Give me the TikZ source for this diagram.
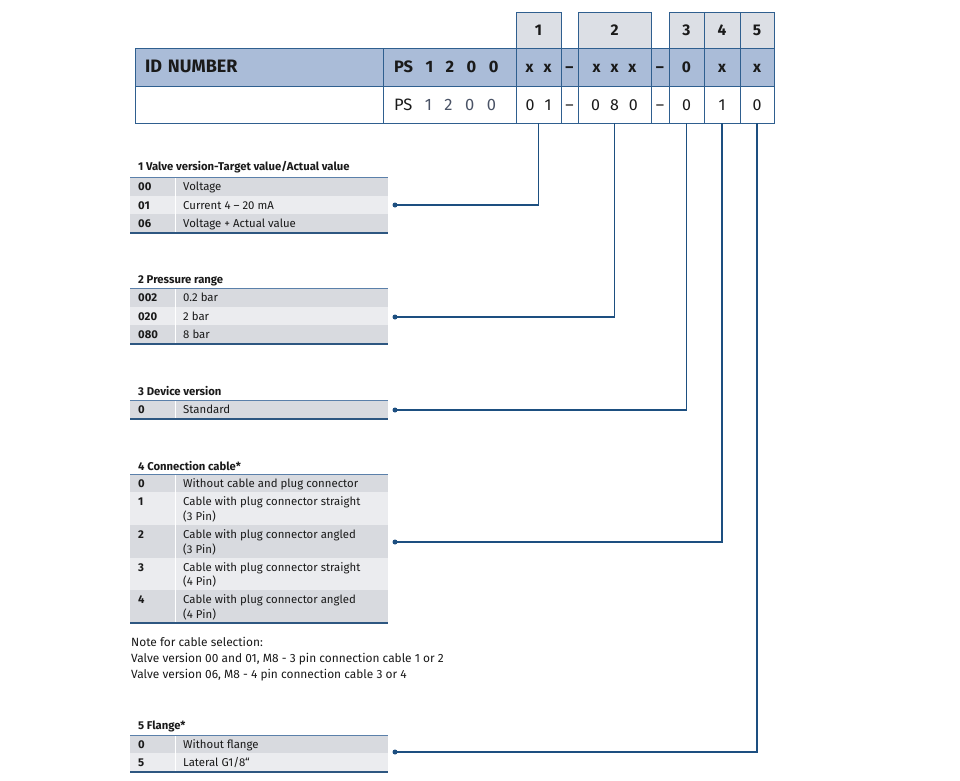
\documentclass[tikz,border=0pt]{standalone}
\usepackage{fontspec}
\setmainfont{Fira Sans}
\definecolor{bordblue}{HTML}{2F5F8F}
\definecolor{idblue}{HTML}{AABCD8}
\definecolor{numgray}{HTML}{DCDFE5}
\definecolor{rowgray}{HTML}{D8DADF}
\definecolor{rowlight}{HTML}{EBECEF}
\definecolor{lineblue}{HTML}{1D4F80}
\definecolor{topblue}{HTML}{5B80AA}
\definecolor{botblue}{HTML}{2E5781}
\definecolor{txt}{HTML}{1A1A1A}
\definecolor{digit}{HTML}{4A5366}
\newcommand\gapsp{\hspace{10pt}}
\newcommand\gapps{\hspace{12.5pt}}
\newcommand\srow[6]{%
  \fill[#4] (130,#2) rectangle (388,#3);
  \fill[white] (174.5,#2) rectangle (176,#3);
  \node[codetxt] (#1c) at (138,#2+13.5) {#5};
  \node[desctxt] (#1t) at (183,#2+13.5) {#6};
}
\begin{document}
\begin{tikzpicture}[x=1pt,y=-1pt,
  cell/.style={draw=bordblue,line width=0.9pt,inner sep=0pt,text=txt,text height=11pt,text depth=0pt},
  numcell/.style={cell,fill=numgray,font=\bfseries\fontsize{15.5}{18}\selectfont},
  idcell/.style={cell,fill=idblue,font=\bfseries\fontsize{15.5}{18}\selectfont},
  valcell/.style={cell,fill=white,font=\fontsize{16}{18}\selectfont},
  codetxt/.style={anchor=base west,inner sep=0pt,text=txt,font=\bfseries\fontsize{11.3}{13}\selectfont},
  desctxt/.style={anchor=base west,inner sep=0pt,text=txt,font=\fontsize{11.4}{13}\selectfont},
  notetxt/.style={anchor=base west,inner sep=0pt,text=txt,font=\fontsize{11.9}{13}\selectfont},
  titletxt/.style={anchor=base west,inner sep=0pt,text=txt,font=\bfseries\fontsize{11.3}{13}\selectfont},
  topln/.style={draw=topblue,line width=0.8pt},
  botln/.style={draw=botblue,line width=1.3pt},
  conn/.style={draw=lineblue,line width=1.2pt},
  dot/.style={fill=lineblue,circle,inner sep=0pt,minimum size=5pt}]
\useasboundingbox (0,0) rectangle (960,780);
\fill[white] (0,0) rectangle (960,780);

% number header row
\node[numcell,minimum width=45,minimum height=36] (n1) at (538.5,30) {1};
\node[numcell,minimum width=73,minimum height=36] (n2) at (614.5,30) {2};
\node[numcell,minimum width=35,minimum height=36] (n3) at (686.5,30) {3};
\node[numcell,minimum width=36,minimum height=36] (n4) at (722,30) {4};
\node[numcell,minimum width=34,minimum height=36] (n5) at (757,30) {5};

% ID row
\node[idcell,minimum width=248,minimum height=38,text width=228,align=left,font=\bfseries\fontsize{18}{20}\selectfont] (idl) at (259,67) {ID NUMBER};
\node[idcell,minimum width=133,minimum height=38,text width=111,align=left,font=\bfseries\fontsize{16.5}{19}\selectfont] (idps) at (449.5,67) {PS\gapps 1\gapps 2\gapps 0\gapps 0};
\node[idcell,minimum width=45,minimum height=38] (i1) at (538.5,67) {x\gapsp x};
\node[idcell,minimum width=17,minimum height=38] (id1) at (569.5,67) {–};
\node[idcell,minimum width=73,minimum height=38] (i2) at (614.5,67) {x\gapsp x\gapsp x};
\node[idcell,minimum width=18,minimum height=38] (id2) at (660,67) {–};
\node[idcell,minimum width=35,minimum height=38] (i3) at (686.5,67) {0};
\node[idcell,minimum width=36,minimum height=38] (i4) at (722,67) {x};
\node[idcell,minimum width=34,minimum height=38] (i5) at (757,67) {x};

% value row
\node[valcell,minimum width=248,minimum height=37] (vl) at (259,104.5) {};
\node[valcell,minimum width=133,minimum height=37,text width=111,align=left,font=\fontsize{16.5}{19}\selectfont] (vps) at (449.5,104.5) {PS\gapps \textcolor{digit}{1\gapps 2\gapps 0\gapps 0}};
\node[valcell,minimum width=45,minimum height=37] (v1) at (538.5,104.5) {0\gapsp 1};
\node[valcell,minimum width=17,minimum height=37] (vd1) at (569.5,104.5) {–};
\node[valcell,minimum width=73,minimum height=37] (v2) at (614.5,104.5) {0\gapsp 8\gapsp 0};
\node[valcell,minimum width=18,minimum height=37] (vd2) at (660,104.5) {–};
\node[valcell,minimum width=35,minimum height=37] (v3) at (686.5,104.5) {0};
\node[valcell,minimum width=36,minimum height=37] (v4) at (722,104.5) {1};
\node[valcell,minimum width=34,minimum height=37] (v5) at (757,104.5) {0};

% Section 1
\node[titletxt] (t1) at (138,170) {1 Valve version-Target value/Actual value};
\srow{a1}{177}{195.7}{rowgray}{00}{Voltage}
\srow{a2}{195.7}{214.4}{rowlight}{01}{Current 4 – 20 mA}
\srow{a3}{214.4}{233}{rowgray}{06}{Voltage + Actual value}
\draw[topln] (130,177) -- (388,177);
\draw[botln] (130,233) -- (388,233);

% Section 2
\node[titletxt] (t2) at (138,283) {2 Pressure range};
\srow{b1}{288}{306.7}{rowgray}{002}{0.2 bar}
\srow{b2}{306.7}{325.4}{rowlight}{020}{2 bar}
\srow{b3}{325.4}{344}{rowgray}{080}{8 bar}
\draw[topln] (130,288) -- (388,288);
\draw[botln] (130,344) -- (388,344);

% Section 3
\node[titletxt] (t3) at (138,395) {3 Device version};
\srow{c1}{400}{419}{rowgray}{0}{Standard}
\draw[topln] (130,400) -- (388,400);
\draw[botln] (130,419) -- (388,419);

% Section 4
\node[titletxt] (t4) at (138,470) {4 Connection cable*};
\srow{e1}{474}{492}{rowgray}{0}{Without cable and plug connector}
\srow{e2}{492}{525}{rowlight}{1}{Cable with plug connector straight}
\node[desctxt] (e2u) at (183,520) {(3 Pin)};
\srow{e3}{525}{558}{rowgray}{2}{Cable with plug connector angled}
\node[desctxt] (e3u) at (183,553) {(3 Pin)};
\srow{e4}{558}{590}{rowlight}{3}{Cable with plug connector straight}
\node[desctxt] (e4u) at (183,585) {(4 Pin)};
\srow{e5}{590}{623}{rowgray}{4}{Cable with plug connector angled}
\node[desctxt] (e5u) at (183,618) {(4 Pin)};
\draw[topln] (130,474) -- (388,474);
\draw[botln] (130,623) -- (388,623);

% Note
\node[notetxt] (nt1) at (131,646) {Note for cable selection:};
\node[notetxt] (nt2) at (131,662) {Valve version 00 and 01, M8 - 3 pin connection cable 1 or 2};
\node[notetxt] (nt3) at (131,678) {Valve version 06, M8 - 4 pin connection cable 3 or 4};

% Section 5
\node[titletxt] (t5) at (138,729) {5 Flange*};
\srow{f1}{735}{753}{rowgray}{0}{Without flange}
\srow{f2}{753}{772}{rowlight}{5}{Lateral G1/8“}
\draw[topln] (130,735) -- (388,735);
\draw[botln] (130,772) -- (388,772);

% dots and connectors
\node[dot] (d1) at (395,205) {};
\node[dot] (d2) at (395,317) {};
\node[dot] (d3) at (395,410) {};
\node[dot] (d4) at (395,542) {};
\node[dot] (d5) at (395,752) {};
\draw[conn] (v1.south) |- (d1.center);
\draw[conn] (v2.south) |- (d2.center);
\draw[conn] (v3.south) |- (d3.center);
\draw[conn] (v4.south) |- (d4.center);
\draw[conn] (v5.south) |- (d5.center);
\end{tikzpicture}
\end{document}
